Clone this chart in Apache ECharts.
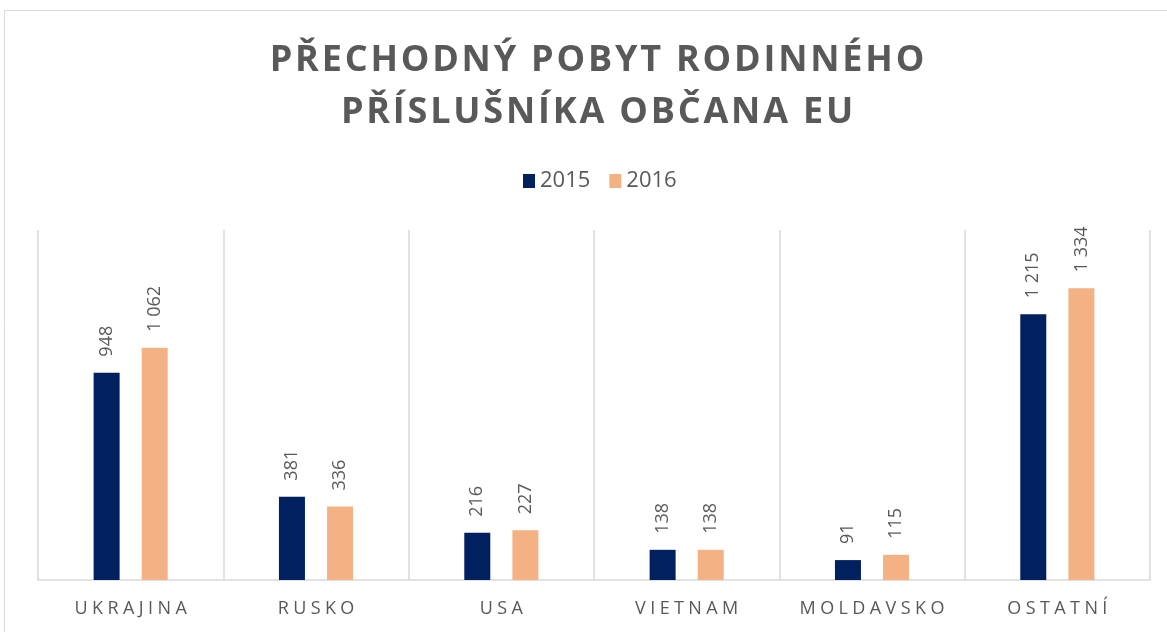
<!DOCTYPE html>
<html>
<head>
<meta charset="utf-8">
<script src="https://cdn.jsdelivr.net/npm/echarts@6/dist/echarts.min.js"></script>
<style>
  html, body { margin: 0; padding: 0; background: #fff; }
  #chart { width: 1167px; height: 632px; }
</style>
</head>
<body>
<div id="chart"></div>
<script>
let categories = ['UKRAJINA', 'RUSKO', 'USA', 'VIETNAM', 'MOLDAVSKO', 'OSTATNÍ']
let years = ['2015', '2016']
let values2015 = [948, 381, 216, 138, 91, 1215]
let values2016 = [1062, 336, 227, 138, 115, 1334]
let titleLines = ['PŘECHODNÝ POBYT RODINNÉHO', 'PŘÍSLUŠNÍKA OBČANA EU']

let myChart = echarts.init(document.getElementById('chart'))

// cisla s mezerou jako oddelovacem tisicu
function fmt(p) {
  return String(p.value).replace(/\B(?=(\d{3})+(?!\d))/g, ' ')
}

// proklad pismen - kazdy znak jako rich segment s paddingem
function spaced(str, style) {
  return str.split('').map(ch => '{' + style + '|' + ch + '}').join('')
}

let barLabel = {
  show: true,
  position: 'top',
  rotate: 90,
  align: 'left',
  verticalAlign: 'middle',
  distance: 16,
  color: '#595959',
  fontSize: 18,
  fontFamily: 'Open Sans',
  formatter: fmt
}

let option = {
  animation: false,
  backgroundColor: '#fff',
  title: {
    text: titleLines.map(l => spaced(l, 't')).join('\n'),
    left: 592,
    textAlign: 'center',
    top: 30,
    textStyle: {
      rich: {
        t: {
          color: '#595959',
          fontSize: 36,
          fontWeight: 'bold',
          fontFamily: 'Open Sans',
          lineHeight: 52,
          padding: [0, 1.4]
        }
      }
    }
  },
  legend: {
    data: years,
    top: 165,
    left: 518,
    itemWidth: 12,
    itemHeight: 14,
    itemGap: 19,
    icon: 'rect',
    textStyle: { color: '#595959', fontSize: 22, fontFamily: 'Open Sans' }
  },
  graphic: [{
    type: 'rect',
    shape: { x: 4.5, y: 10.5, width: 1180, height: 640 },
    style: { fill: 'none', stroke: '#d9d9d9', lineWidth: 1 },
    silent: true
  }],
  grid: { left: 38, right: 17, top: 230, bottom: 52 },
  xAxis: {
    type: 'category',
    data: categories,
    axisLine: { lineStyle: { color: '#d9d9d9', width: 1.5 } },
    axisTick: { show: false },
    splitLine: { show: true, interval: 0, lineStyle: { color: '#d9d9d9', width: 1.5 } },
    axisLabel: {
      interval: 0,
      margin: 20,
      formatter: v => spaced(v, 'c'),
      rich: {
        c: { color: '#595959', fontSize: 18, fontFamily: 'Open Sans', padding: [0, 2.2] }
      }
    }
  },
  yAxis: {
    type: 'value',
    min: 0,
    max: 1600,
    show: false,
    splitLine: { show: false }
  },
  series: [
    {
      name: '2015',
      type: 'bar',
      data: values2015,
      barWidth: 26,
      barGap: '85%',
      itemStyle: { color: '#002060' },
      label: barLabel
    },
    {
      name: '2016',
      type: 'bar',
      data: values2016,
      barWidth: 26,
      itemStyle: { color: '#F4B183' },
      label: barLabel
    }
  ]
}

myChart.setOption(option)
</script>
</body>
</html>
